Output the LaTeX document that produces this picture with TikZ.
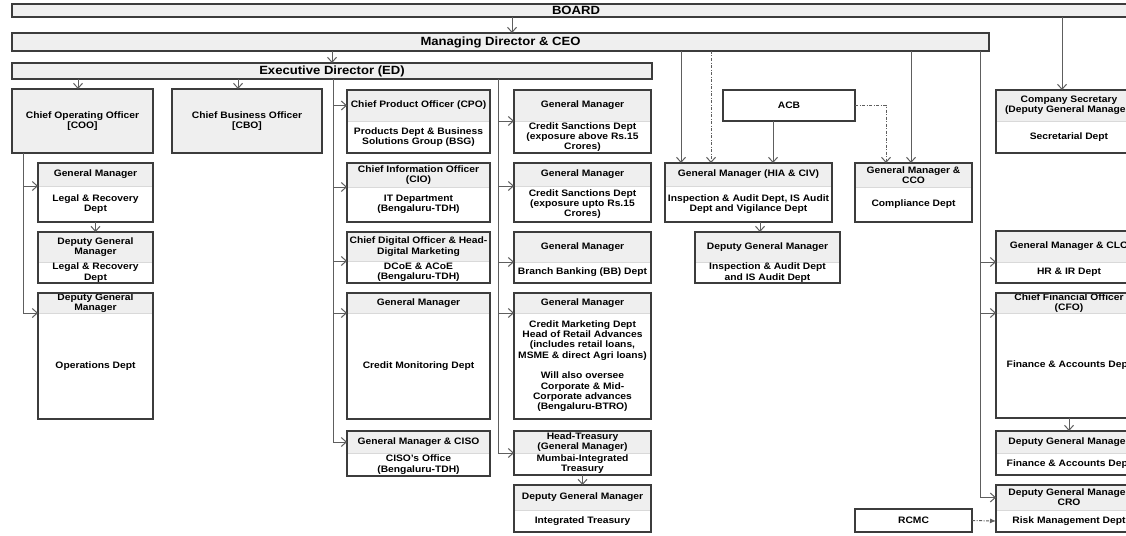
\documentclass[tikz,border=0pt]{standalone}
\usepackage{fontspec}
\setmainfont{Liberation Sans}[FakeStretch=1.1]
\usetikzlibrary{arrows.meta,positioning}

\definecolor{boxfill}{HTML}{EFEFEF}
\definecolor{frameline}{HTML}{3C3C3C}
\definecolor{linkline}{HTML}{5E5E5E}

\begin{document}
\begin{tikzpicture}[
    x=1pt, y=-1pt,
    node distance=0pt,
    txt/.style={font=\bfseries\fontsize{9.35}{10.3}\selectfont, align=center, inner sep=0pt, outer sep=0pt},
    wh/.style 2 args={minimum width=#1, minimum height=#2},
    barbox/.style={txt, font=\bfseries\fontsize{11.9}{13}\selectfont, draw=frameline, line width=1.2pt, fill=boxfill, anchor=north west},
    fullbox/.style={txt, draw=frameline, line width=1.2pt, fill=boxfill, anchor=north west},
    plainbox/.style={txt, draw=frameline, line width=1.2pt, anchor=north west},
    headbox/.style={txt, fill=boxfill, draw=gray!30, line width=0.6pt, anchor=north west},
    bodybox/.style={txt},
    frame/.style={draw=frameline, line width=1.2pt},
    link/.style={draw=linkline, line width=1pt},
    arrow/.style={link, -{Straight Barb[length=5pt,width=9pt]}},
    dotarrow/.style={arrow, dash pattern=on 3pt off 1.5pt on 1pt off 1.5pt},
    dotlatex/.style={link, dash pattern=on 3pt off 1.5pt on 1pt off 1.5pt, -{Latex[length=6pt,width=5pt]}}
]
\useasboundingbox (0,0) rectangle (1126,535);
\clip (0,0) rectangle (1126,535);

% Top level bars
\node[barbox, wh={1128}{13}] (board) at (12,4) {BOARD};
\node[barbox, wh={977}{18}] (md) at (12,33) {Managing Director \& CEO};
\node[barbox, wh={640}{16}] (ed) at (12,63) {Executive Director (ED)};

% COO and CBO
\node[fullbox, wh={141}{64}] (coo) at (12,89) {Chief Operating Officer\\{[COO]}};
\node[fullbox, wh={150}{64}] (cbo) at (172,89) {Chief Business Officer\\{[CBO]}};

% COO column
\node[headbox, wh={115}{23}] (gml) at (38,163) {General Manager};
\node[bodybox, wh={115}{36}, below=of gml] (gmlb) {Legal \& Recovery\\Dept};
\draw[frame] (gml.north west) rectangle (gmlb.south east);
\node[headbox, wh={115}{30}] (dgml) at (38,232) {Deputy General\\Manager};
\node[bodybox, wh={115}{21}, below=of dgml] (dgmlb) {Legal \& Recovery\\Dept};
\draw[frame] (dgml.north west) rectangle (dgmlb.south east);
\node[headbox, wh={115}{20}] (dgmo) at (38,293) {Deputy General\\Manager};
\node[bodybox, wh={115}{106}, below=of dgmo] (dgmob) {Operations Dept};
\draw[frame] (dgmo.north west) rectangle (dgmob.south east);

% Officers column
\node[headbox, wh={143}{31}] (cpo) at (347,90) {Chief Product Officer (CPO)};
\node[bodybox, wh={143}{32}, below=of cpo] (cpob) {Products Dept \& Business\\Solutions Group (BSG)};
\draw[frame] (cpo.north west) rectangle (cpob.south east);
\node[headbox, wh={143}{24}] (cio) at (347,163) {Chief Information Officer\\(CIO)};
\node[bodybox, wh={143}{35}, below=of cio] (ciob) {IT Department\\(Bengaluru-TDH)};
\draw[frame] (cio.north west) rectangle (ciob.south east);
\node[headbox, wh={143}{29}] (cdo) at (347,232) {Chief Digital Officer \& Head-\\Digital Marketing};
\node[bodybox, wh={143}{22}, below=of cdo] (cdob) {DCoE \& ACoE\\(Bengaluru-TDH)};
\draw[frame] (cdo.north west) rectangle (cdob.south east);
\node[headbox, wh={143}{20}] (gmcm) at (347,293) {General Manager};
\node[bodybox, wh={143}{106}, below=of gmcm] (gmcmb) {Credit Monitoring Dept};
\draw[frame] (gmcm.north west) rectangle (gmcmb.south east);
\node[headbox, wh={143}{22}] (ciso) at (347,431) {General Manager \& CISO};
\node[bodybox, wh={143}{23}, below=of ciso] (cisob) {CISO's Office\\(Bengaluru-TDH)};
\draw[frame] (ciso.north west) rectangle (cisob.south east);

% General managers column
\node[headbox, wh={137}{31}] (cs1) at (514,90) {General Manager};
\node[bodybox, wh={137}{32}, below=of cs1] (cs1b) {Credit Sanctions Dept\\(exposure above Rs.15\\Crores)};
\draw[frame] (cs1.north west) rectangle (cs1b.south east);
\node[headbox, wh={137}{23}] (cs2) at (514,163) {General Manager};
\node[bodybox, wh={137}{36}, below=of cs2] (cs2b) {Credit Sanctions Dept\\(exposure upto Rs.15\\Crores)};
\draw[frame] (cs2.north west) rectangle (cs2b.south east);
\node[headbox, wh={137}{30}] (bb) at (514,232) {General Manager};
\node[bodybox, wh={137}{21}, below=of bb] (bbb) {Branch Banking (BB) Dept};
\draw[frame] (bb.north west) rectangle (bbb.south east);
\node[headbox, wh={137}{20}] (cmkt) at (514,293) {General Manager};
\node[bodybox, wh={137}{106}, below=of cmkt] (cmktb) {Credit Marketing Dept\\Head of Retail Advances\\(includes retail loans,\\MSME \& direct Agri loans)\\[10.3pt]Will also oversee\\Corporate \& Mid-\\Corporate advances\\(Bengaluru-BTRO)};
\draw[frame] (cmkt.north west) rectangle (cmktb.south east);
\node[headbox, wh={137}{22}] (trs) at (514,431) {Head-Treasury\\(General Manager)};
\node[bodybox, wh={137}{22}, below=of trs] (trsb) {Mumbai-Integrated\\Treasury};
\draw[frame] (trs.north west) rectangle (trsb.south east);
\node[headbox, wh={137}{25}] (dgmt) at (514,485) {Deputy General Manager};
\node[bodybox, wh={137}{22}, below=of dgmt] (dgmtb) {Integrated Treasury};
\draw[frame] (dgmt.north west) rectangle (dgmtb.south east);

% Audit and compliance
\node[plainbox, wh={132}{31}] (acb) at (723,90) {ACB};
\node[headbox, wh={167}{23}] (hia) at (665,163) {General Manager (HIA \& CIV)};
\node[bodybox, wh={167}{36}, below=of hia] (hiab) {Inspection \& Audit Dept, IS Audit\\Dept and Vigilance Dept};
\draw[frame] (hia.north west) rectangle (hiab.south east);
\node[headbox, wh={145}{30}] (dgmia) at (695,232) {Deputy General Manager};
\node[bodybox, wh={145}{21}, below=of dgmia] (dgmiab) {Inspection \& Audit Dept\\and IS Audit Dept};
\draw[frame] (dgmia.north west) rectangle (dgmiab.south east);
\node[headbox, wh={117}{24}] (cco) at (855,163) {General Manager \&\\CCO};
\node[bodybox, wh={117}{35}, below=of cco] (ccob) {Compliance Dept};
\draw[frame] (cco.north west) rectangle (ccob.south east);
\node[plainbox, wh={117}{23}] (rcmc) at (855,509) {RCMC};

% Right column
\node[headbox, wh={146}{31}] (cs) at (996,90) {Company Secretary\\(Deputy General Manager)};
\node[bodybox, wh={146}{32}, below=of cs] (csb) {Secretarial Dept};
\draw[frame] (cs.north west) rectangle (csb.south east);
\node[headbox, wh={146}{31}] (clo) at (996,231) {General Manager \& CLO};
\node[bodybox, wh={146}{21}, below=of clo] (clob) {HR \& IR Dept};
\draw[frame] (clo.north west) rectangle (clob.south east);
\node[headbox, wh={146}{20}] (cfo) at (996,293) {Chief Financial Officer\\(CFO)};
\node[bodybox, wh={146}{105}, below=of cfo] (cfob) {Finance \& Accounts Dept};
\draw[frame] (cfo.north west) rectangle (cfob.south east);
\node[headbox, wh={146}{22}] (dgmfa) at (996,431) {Deputy General Manager};
\node[bodybox, wh={146}{22}, below=of dgmfa] (dgmfab) {Finance \& Accounts Dept};
\draw[frame] (dgmfa.north west) rectangle (dgmfab.south east);
\node[headbox, wh={146}{25}] (cro) at (996,485) {Deputy General Manager\\CRO};
\node[bodybox, wh={146}{22}, below=of cro] (crob) {Risk Management Dept};
\draw[frame] (cro.north west) rectangle (crob.south east);

% Spine positions
\coordinate (s0) at (512,0);
\coordinate (s1) at (23,0);
\coordinate (s2) at (333,0);
\coordinate (s3) at (498,0);
\coordinate (s4) at (681,0);
\coordinate (s5) at (711,0);
\coordinate (s6) at (911,0);
\coordinate (s7) at (980,0);
\coordinate (s8) at (886,0);
\coordinate (s9) at (773,0);
\coordinate (s10) at (78,0);
\coordinate (s11) at (238,0);
\coordinate (s12) at (760,0);
\coordinate (s13) at (1062,0);

% Top links
\draw[arrow] (board.south -| s0) -- (md.north -| s0);
\draw[arrow] (ed.north |- md.south) -- (ed.north);
\draw[arrow] (ed.south -| s10) -- (coo.north -| s10);
\draw[arrow] (ed.south -| s11) -- (cbo.north -| s11);
\draw[arrow] (board.south -| s13) -- (cs.north -| s13);

% COO links
\draw[arrow] (coo.south -| s1) |- (dgmo.south west);
\draw[arrow] (gml.south west -| s1) -- (gml.south west);
\draw[arrow] (gmlb.south) -- (dgml.north);

% ED links
\draw[arrow] (ed.south -| s2) |- (ciso.west);
\draw[arrow] (cpo.west -| s2) -- (cpo.west);
\draw[arrow] (cio.south west -| s2) -- (cio.south west);
\draw[arrow] (cdo.south west -| s2) -- (cdo.south west);
\draw[arrow] (gmcm.south west -| s2) -- (gmcm.south west);
\draw[arrow] (ed.south -| s3) |- (trs.south west);
\draw[arrow] (cs1.south west -| s3) -- (cs1.south west);
\draw[arrow] (cs2.south west -| s3) -- (cs2.south west);
\draw[arrow] (bb.south west -| s3) -- (bb.south west);
\draw[arrow] (cmkt.south west -| s3) -- (cmkt.south west);
\draw[arrow] (trsb.south) -- (dgmt.north);

% MD links
\draw[arrow] (md.south -| s4) -- (hia.north -| s4);
\draw[dotarrow] (md.south -| s5) -- (hia.north -| s5);
\draw[arrow] (acb.south -| s9) -- (hia.north -| s9);
\draw[arrow] (hiab.south -| s12) -- (dgmia.north -| s12);
\draw[arrow] (md.south -| s6) -- (cco.north -| s6);
\draw[dotarrow] (acb.east) -| (cco.north -| s8);
\draw[arrow] (md.south -| s7) |- (cro.west);
\draw[arrow] (clo.south west -| s7) -- (clo.south west);
\draw[arrow] (cfo.south west -| s7) -- (cfo.south west);
\draw[arrow] (cfob.south) -- (dgmfa.north);
\draw[dotlatex] (rcmc.east) -- (crob.west);

\end{tikzpicture}
\end{document}
